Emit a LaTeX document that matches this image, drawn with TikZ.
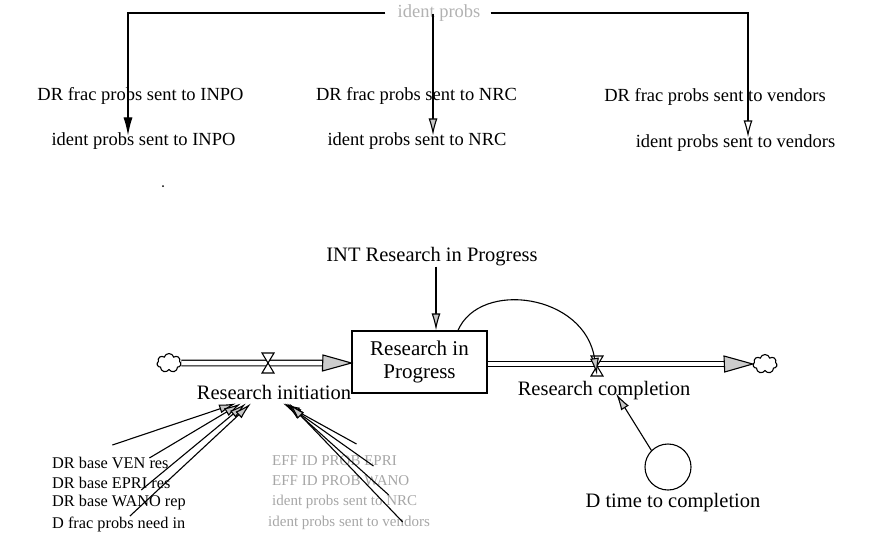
\documentclass[tikz,border=0pt]{standalone}
\usepackage{fontspec}
\setmainfont{Liberation Serif}
\usetikzlibrary{arrows.meta,shapes.symbols}

\tikzset{
  toplbl/.style={font=\fontsize{18.5}{22}\selectfont, inner sep=0pt},
  sflbl/.style={font=\fontsize{20.5}{24}\selectfont, inner sep=0pt},
  listlbl/.style={font=\fontsize{16.3}{19}\selectfont, inner sep=0pt, anchor=west},
  faintlbl/.style={font=\fontsize{15}{18}\selectfont, inner sep=0pt, anchor=west, text=black!35},
  link/.style={draw, line width=1.1pt, -{Latex[length=17pt,width=9pt,fill=gray!45]}},
  solidlink/.style={draw, line width=1.1pt, -{Latex[length=18pt,width=9pt,fill=black]}},
  openlink/.style={draw, line width=1.1pt, -{Latex[length=17pt,width=9pt,fill=white]}},
  pipe/.style={draw, double, double distance=4.5pt, line width=1.1pt},
  stockbox/.style={draw, line width=1.2pt, minimum width=135pt, minimum height=62pt,
    align=center, inner sep=0pt, font=\fontsize{21}{25}\selectfont},
  cloudnode/.style={cloud, cloud puffs=7, draw, line width=1.1pt, fill=white,
    minimum width=24pt, minimum height=19pt, inner sep=0pt},
  auxnode/.style={circle, draw, line width=1.1pt, minimum size=46pt, inner sep=0pt},
  valvebody/.style={draw, fill=white, line width=1.1pt},
  flowhead/.style={draw, fill=gray!40, line width=1.1pt}
}

\begin{document}
\begin{tikzpicture}[x=1pt,y=-1pt]
\useasboundingbox (0,0) rectangle (877,549);

% ---------------- distribution of identified problems ----------------
\node[toplbl, text=black!30] (ip) at (439,13) {ident probs};

\node[toplbl] (f1) at (140.5,96) {DR frac probs sent to INPO};
\node[toplbl] (f2) at (416.5,96) {DR frac probs sent to NRC};
\node[toplbl] (f3) at (715,97) {DR frac probs sent to vendors};

\node[toplbl] (i1) at (143.5,141) {ident probs sent to INPO};
\node[toplbl] (i2) at (417,141) {ident probs sent to NRC};
\node[toplbl] (i3) at (735.5,143) {ident probs sent to vendors};

\draw[solidlink] ([xshift=-12pt]ip.west) -| ([xshift=-15.5pt,yshift=-3pt]i1.north);
\draw[link] ([xshift=-6pt,yshift=8pt]ip.south) -- ([xshift=16pt,yshift=-3pt]i2.north);
\draw[openlink] ([xshift=10pt]ip.east) -| ([xshift=12.5pt,yshift=-3pt]i3.north);

\fill (163,186) circle (1pt);

% ---------------- research stock and flows ----------------
\node[stockbox] (stock) at (419.5,362) {Research in\\[-2pt]Progress};
\node[sflbl] (int) at (432,257) {INT Research in Progress};

\node[cloudnode] (c1) at (169,363) {};
\node[cloudnode] (c2) at (765,364) {};

\coordinate (v1) at (268,363);
\coordinate (v2) at (597,366);
\coordinate (h1) at (323,363);
\coordinate (h2) at (724,364);

% inflow: research initiation
\draw[pipe] (c1.east) -- (h1);
\draw[flowhead] (h1) ++(0,-8) -- (stock.west |- h1) -- ++(-29,8) -- cycle;
\draw[valvebody] (v1) ++(-6,-10) -- ++(12,0) -- ++(-12,20) -- ++(12,0) -- cycle;
\node[sflbl] (ri) at (274,392) {Research initiation};

% outflow: research completion
\draw[pipe] (stock.east |- h2) -- (h2);
\draw[flowhead] (h2) ++(0,-8) -- (c2.west |- h2) -- ++(-28,8) -- cycle;
\draw[valvebody] (v2) ++(-6,-10) -- ++(12,0) -- ++(-12,20) -- ++(12,0) -- cycle;
\node[sflbl] (rc) at (604,391) {Research completion};

% initial value and stock feedback
\draw[link] ([xshift=4pt]int.south) -- ([xshift=16.5pt]stock.north);
\draw[link] ([xshift=38.5pt]stock.north) .. controls +(22,-51) and +(-12,-81) .. ([yshift=-9pt]v2);

% completion time
\node[auxnode] (dt) at (668,467) {};
\node[sflbl] (dtl) at (673,503) {D time to completion};
\draw[link] (dt.135) -- ([shift={(12pt,7pt)}]rc.south);

% ---------------- inputs of research initiation ----------------
\node[listlbl] (l1) at (52,463) {DR base VEN res};
\node[listlbl] (l2) at (52,483) {DR base EPRI res};
\node[listlbl] (l3) at (52,503) {DR base WANO rep};
\node[listlbl] (l4) at (52,524) {D frac probs need in};

\node[faintlbl] (r1) at (272,461) {EFF ID PROB EPRI};
\node[faintlbl] (r2) at (272,481) {EFF ID PROB WANO};
\node[faintlbl] (r3) at (272,502) {ident probs sent to NRC};
\node[faintlbl] (r4) at (268,523) {ident probs sent to vendors};

\draw[link] ([shift={(2,-18)}]l1.center) -- ([shift={(-38,4)}]ri.south);
\draw[link] ([shift={(39,-5)}]l1.center) -- ([shift={(-33,4)}]ri.south);
\draw[link] ([shift={(30,7)}]l2.center) -- ([shift={(-28,4)}]ri.south);
\draw[link] ([shift={(11,13)}]l3.center) -- ([shift={(-23,4)}]ri.south);

\draw[link] ([shift={(22,-17)}]r1.center) -- ([shift={(9,4)}]ri.south);
\draw[link] ([shift={(39,5)}]r1.center) -- ([shift={(11,4)}]ri.south);
\draw[link] ([shift={(48,14)}]r2.center) -- ([shift={(13,4)}]ri.south);
\draw[link] ([shift={(58,20)}]r3.center) -- ([shift={(15,4)}]ri.south);
\end{tikzpicture}
\end{document}
